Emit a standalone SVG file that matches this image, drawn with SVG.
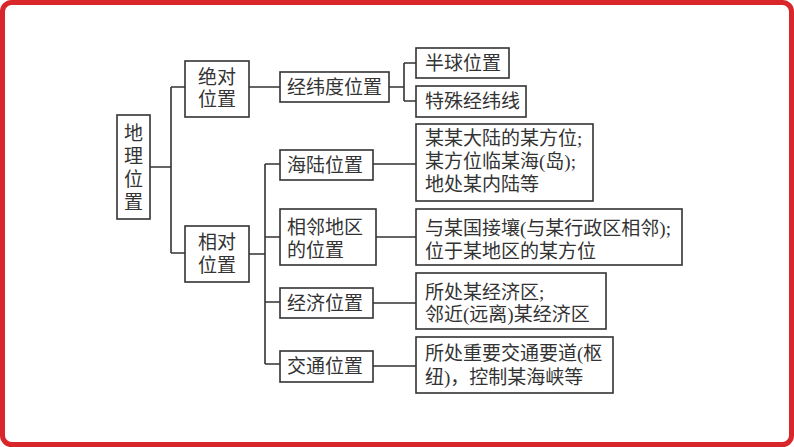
<svg xmlns="http://www.w3.org/2000/svg" width="794" height="447" viewBox="0 0 794 447">
<style>
.box{fill:#fff;stroke:#333;stroke-width:1.6}
.t{font-family:"Liberation Serif","Noto Sans CJK SC",serif;font-size:19px;fill:#333}
.c{text-anchor:middle}
.ln{fill:none;stroke:#333;stroke-width:1.6}
</style>
<rect x="0" y="0" width="794" height="447" fill="#fff"/>
<rect x="2.5" y="2.5" width="789" height="442" rx="9" fill="none" stroke="#d9262a" stroke-width="5"/>
<g id="connectors" class="ln">
<path d="M150 167H171M171 87V253M171 87H185M171 253H185"/>
<path d="M249 87H280M389 87H404M404 63V101M404 63H416M404 101H416"/>
<path d="M249 254H265M265 164V364M265 164H280M265 237H280M265 302H280M265 364H280"/>
<path d="M373 164H416M376 237H416M373 303H416M373 366H416"/>
</g>
<g id="n-root"><rect class="box" x="117" y="115" width="33" height="104"/>
<text class="t c" x="133.5" y="140">地</text><text class="t c" x="133.5" y="163">理</text><text class="t c" x="133.5" y="186">位</text><text class="t c" x="133.5" y="209">置</text></g>
<g id="n-abs"><rect class="box" x="185" y="61" width="64" height="56"/>
<text class="t c" x="217" y="84">绝对</text><text class="t c" x="217" y="106">位置</text></g>
<g id="n-rel"><rect class="box" x="185" y="226" width="64" height="56"/>
<text class="t c" x="217" y="249">相对</text><text class="t c" x="217" y="272">位置</text></g>
<g id="n-lonlat"><rect class="box" x="280" y="72" width="109" height="30"/>
<text class="t" x="287" y="94">经纬度位置</text></g>
<g id="n-hemi"><rect class="box" x="416" y="48" width="93" height="30"/>
<text class="t" x="425" y="70">半球位置</text></g>
<g id="n-special"><rect class="box" x="416" y="86" width="110" height="31"/>
<text class="t" x="425" y="108">特殊经纬线</text></g>
<g id="n-sealand"><rect class="box" x="280" y="150" width="93" height="30"/>
<text class="t" x="287" y="172">海陆位置</text></g>
<g id="n-sealand-d"><rect class="box" x="416" y="124" width="177" height="77"/>
<text class="t" x="425" y="145">某某大陆的某方位;</text><text class="t" x="425" y="168">某方位临某海(岛);</text><text class="t" x="425" y="191">地处某内陆等</text></g>
<g id="n-adj"><rect class="box" x="280" y="209" width="96" height="56"/>
<text class="t" x="287" y="234">相邻地区</text><text class="t" x="287" y="257">的位置</text></g>
<g id="n-adj-d"><rect class="box" x="416" y="209" width="266" height="56"/>
<text class="t" x="425" y="235">与某国接壤(与某行政区相邻);</text><text class="t" x="425" y="258">位于某地区的某方位</text></g>
<g id="n-econ"><rect class="box" x="280" y="288" width="93" height="30"/>
<text class="t" x="287" y="310">经济位置</text></g>
<g id="n-econ-d"><rect class="box" x="416" y="273" width="190" height="56"/>
<text class="t" x="425" y="299">所处某经济区;</text><text class="t" x="425" y="321">邻近(远离)某经济区</text></g>
<g id="n-traffic"><rect class="box" x="280" y="351" width="93" height="31"/>
<text class="t" x="287" y="373">交通位置</text></g>
<g id="n-traffic-d"><rect class="box" x="416" y="337" width="197" height="56"/>
<text class="t" x="425" y="360">所处重要交通要道(枢</text><text class="t" x="425" y="384">纽)，控制某海峡等</text></g>
</svg>
